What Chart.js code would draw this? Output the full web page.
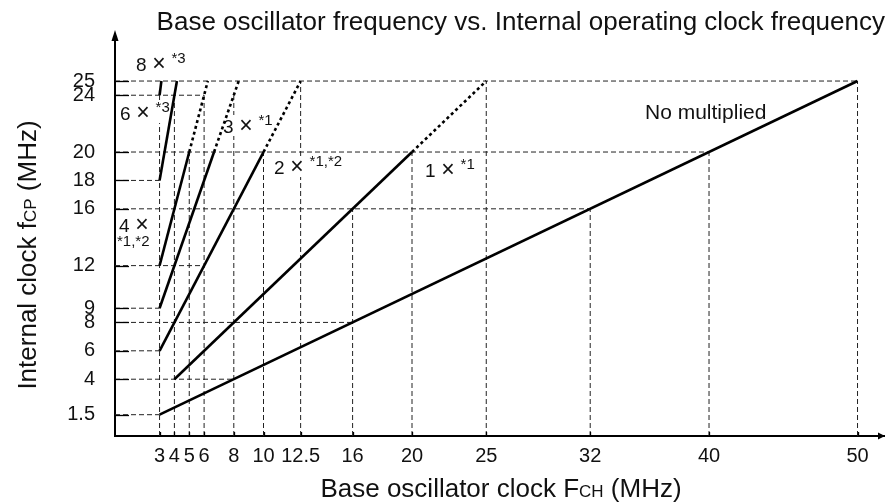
<!DOCTYPE html>
<html>
<head>
<meta charset="utf-8">
<script src="https://cdn.jsdelivr.net/npm/chart.js@4/dist/chart.umd.min.js"></script>
<style>
  html, body { margin: 0; padding: 0; background: #fff; }
</style>
</head>
<body>
<canvas id="clockChart" width="885" height="504"></canvas>
<script>
// tick values (MHz)
var fchTicks = [3, 4, 5, 6, 8, 10, 12.5, 16, 20, 25, 32, 40, 50];
var fcpTicks = [1.5, 4, 6, 8, 9, 12, 16, 18, 20, 24, 25];

// where each dashed drop line stops
var fchGuideTop = [24, 24, 20, 24, 24, 20, 25, 16, 20, 25, 16, 20, 25];
var fcpGuideEnd = [3, 8, 3, 16, 3, 6, 32, 3, 40, 6, 50];

// base clock -> internal clock for each multiplier
// (first two points are solid, anything after is the dotted tail)
var noMulFch = [3, 50];
var noMulFcp = [1.5, 25];
var mul1Fch = [4, 20, 25];
var mul1Fcp = [4, 20, 25];
var mul2Fch = [3, 10, 12.5];
var mul2Fcp = [6, 20, 25];
var mul3Fch = [3, 6.67, 8.33];
var mul3Fcp = [9, 20, 25];
var mul4Fch = [3, 5, 6.25];
var mul4Fcp = [12, 20, 25];
var mul6Fch = [3, 4.17];
var mul6Fcp = [18, 25];
var mul8Fch = [3, 3.125];
var mul8Fcp = [24, 25];

var FONT = "'Liberation Sans', Arial, Helvetica, sans-serif";
Chart.defaults.font.family = FONT;
Chart.defaults.color = '#111';

function guide(points) {
  return {
    data: points,
    borderColor: '#222',
    borderWidth: 1,
    borderDash: [5, 3],
    pointRadius: 0,
    order: 2
  };
}

function curve(fch, fcp) {
  return {
    data: fch.map(function (x, i) { return { x: x, y: fcp[i] }; }),
    borderColor: '#000',
    borderWidth: 2.6,
    borderCapStyle: 'butt',
    pointRadius: 0,
    order: 1,
    segment: {
      borderDash: function (ctx) { return ctx.p0DataIndex >= 1 ? [3, 3] : undefined; }
    }
  };
}

var datasets = [];
fchTicks.forEach(function (v, i) {
  datasets.push(guide([{ x: v, y: 0 }, { x: v, y: fchGuideTop[i] }]));
});
fcpTicks.forEach(function (v, i) {
  datasets.push(guide([{ x: 0, y: v }, { x: fcpGuideEnd[i], y: v }]));
});
datasets.push(curve(noMulFch, noMulFcp));
datasets.push(curve(mul1Fch, mul1Fcp));
datasets.push(curve(mul2Fch, mul2Fcp));
datasets.push(curve(mul3Fch, mul3Fcp));
datasets.push(curve(mul4Fch, mul4Fcp));
datasets.push(curve(mul6Fch, mul6Fcp));
datasets.push(curve(mul8Fch, mul8Fcp));

// multiplier notes, anchored in axis units (left edge, baseline)
var notes = [
  { fch: 1.41, fcp: 25.73, num: '8', sup: '*3' },
  { fch: 0.34, fcp: 22.25, num: '6', sup: '*3' },
  { fch: 7.27, fcp: 21.34, num: '3', sup: '*1' },
  { fch: 10.71, fcp: 18.45, num: '2', sup: '*1,*2' },
  { fch: 20.88, fcp: 18.24, num: '1', sup: '*1' },
  { fch: 0.27, fcp: 14.39, num: '4', below: '*1,*2' }
];

function font(size) { return size + 'px ' + FONT; }

function drawNotes(chart) {
  var ctx = chart.ctx, xs = chart.scales.x, ys = chart.scales.y, area = chart.chartArea;
  ctx.save();
  // short solid tick marks inside the axes
  ctx.strokeStyle = '#000';
  ctx.lineWidth = 1.3;
  fcpTicks.forEach(function (v) {
    var py = Math.round(ys.getPixelForValue(v)) + 0.5;
    ctx.beginPath(); ctx.moveTo(area.left, py); ctx.lineTo(area.left + 14, py); ctx.stroke();
  });
  fchTicks.forEach(function (v) {
    var px = Math.round(xs.getPixelForValue(v)) + 0.5;
    ctx.beginPath(); ctx.moveTo(px, area.bottom); ctx.lineTo(px, area.bottom - 4); ctx.stroke();
  });

  ctx.textAlign = 'left';
  ctx.textBaseline = 'alphabetic';
  notes.forEach(function (n) {
    var x = xs.getPixelForValue(n.fch), y = ys.getPixelForValue(n.fcp);
    var right = x + 31;
    if (n.sup) {
      ctx.font = font(15);
      right = x + 35.5 + ctx.measureText(n.sup).width;
    }
    var bottom = n.below ? y + 17 : y + 3;
    ctx.fillStyle = '#fff';
    ctx.fillRect(x - 1, y - 18, right - x + 3, bottom - y + 18);
    ctx.fillStyle = '#111';
    ctx.font = font(19);
    ctx.fillText(n.num, x, y);
    ctx.font = font(23);
    ctx.textAlign = 'center';
    ctx.fillText('\u00d7', x + 23, y);
    ctx.textAlign = 'left';
    if (n.sup) {
      ctx.font = font(15);
      ctx.fillText(n.sup, x + 35.5, y - 8);
    }
    if (n.below) {
      ctx.font = font(15);
      ctx.fillText(n.below, x - 2, y + 14.5);
    }
  });
  ctx.font = font(21);
  ctx.fillText('No multiplied', xs.getPixelForValue(35.69), ys.getPixelForValue(22.32));
  ctx.restore();
}

// text made of runs with different sizes, centred on (cx, baseline cy)
function drawRuns(ctx, runs, cx, cy) {
  var total = 0;
  runs.forEach(function (r) { ctx.font = font(r.size); r.w = ctx.measureText(r.text).width; total += r.w; });
  var x = cx - total / 2;
  ctx.textAlign = 'left';
  ctx.textBaseline = 'alphabetic';
  runs.forEach(function (r) { ctx.font = font(r.size); ctx.fillText(r.text, x, cy); x += r.w; });
}

var decor = {
  id: 'decor',
  afterDatasetDraw: function (chart, args) {
    if (args.index === 0) drawNotes(chart);
  },
  afterDraw: function (chart) {
    var ctx = chart.ctx, area = chart.chartArea;
    ctx.save();
    ctx.fillStyle = '#000';
    // arrowheads on both axes
    ctx.beginPath();
    ctx.moveTo(area.left, 30); ctx.lineTo(area.left - 3.5, 41); ctx.lineTo(area.left + 3.5, 41);
    ctx.closePath(); ctx.fill();
    ctx.beginPath();
    ctx.moveTo(885, area.bottom); ctx.lineTo(878, area.bottom - 3.5); ctx.lineTo(878, area.bottom + 3.5);
    ctx.closePath(); ctx.fill();

    ctx.fillStyle = '#111';
    drawRuns(ctx, [
      { text: 'Base oscillator clock F', size: 26 },
      { text: 'CH', size: 17 },
      { text: ' (MHz)', size: 26 }
    ], 501, 497);

    ctx.translate(36, 255);
    ctx.rotate(-Math.PI / 2);
    drawRuns(ctx, [
      { text: 'Internal clock f', size: 26 },
      { text: 'CP', size: 17 },
      { text: ' (MHz)', size: 26 }
    ], 0, 0);
    ctx.restore();
  }
};

var chart = new Chart(document.getElementById('clockChart'), {
  type: 'line',
  data: { datasets: datasets },
  options: {
    responsive: false,
    animation: false,
    events: [],
    layout: { padding: 0 },
    plugins: {
      legend: { display: false },
      tooltip: { enabled: false },
      title: {
        display: true,
        text: 'Base oscillator frequency vs. Internal operating clock frequency',
        align: 'end',
        color: '#111',
        font: { size: 26, weight: 'normal' },
        padding: { top: 7, bottom: 1.8 }
      }
    },
    scales: {
      x: {
        type: 'linear',
        min: 0,
        max: 51.85,
        afterFit: function (s) { s.height = 68; },
        afterBuildTicks: function (s) { s.ticks = fchTicks.map(function (v) { return { value: v }; }); },
        grid: { display: false, drawTicks: false },
        border: { display: true, color: '#000', width: 2 },
        ticks: { autoSkip: false, maxRotation: 0, padding: 8, color: '#111', font: { size: 20 } }
      },
      y: {
        type: 'linear',
        min: 0,
        max: 27.89,
        afterFit: function (s) { s.width = 115; },
        afterBuildTicks: function (s) { s.ticks = fcpTicks.map(function (v) { return { value: v }; }); },
        grid: { display: false, drawTicks: false },
        border: { display: true, color: '#000', width: 2 },
        ticks: { autoSkip: false, padding: 20, color: '#111', font: { size: 20 } }
      }
    }
  },
  plugins: [decor]
});
</script>
</body>
</html>
